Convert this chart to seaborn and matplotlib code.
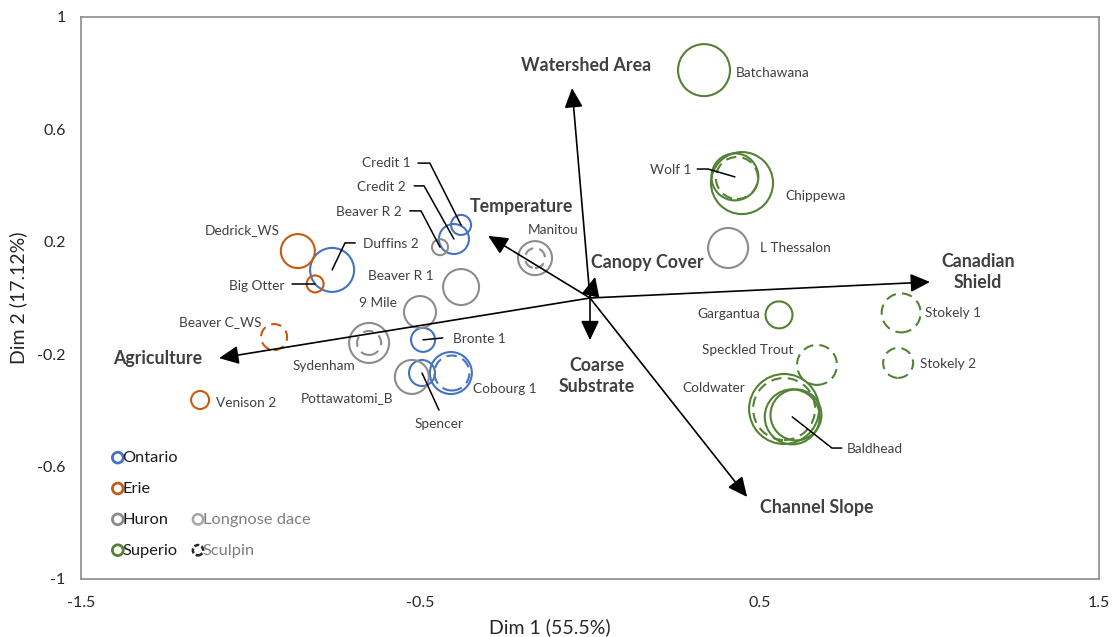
import numpy as np
import pandas as pd
import matplotlib
matplotlib.use("Agg")
import matplotlib.pyplot as plt
import seaborn as sns
from matplotlib.ticker import FixedLocator, FuncFormatter

# ---------------- data ----------------
site = ["Credit 1", "Credit 2", "Duffins 2", "Bronte 1", "Spencer", "Cobourg 1", "Cobourg 1",
        "Dedrick_WS", "Big Otter", "Beaver C_WS", "Venison 2",
        "Beaver R 2", "Manitou", "Manitou", "Beaver R 1", "9 Mile", "Sydenham", "Sydenham",
        "Pottawatomi_B", "L Thessalon",
        "Batchawana", "Chippewa", "Wolf 1", "Wolf 1", "Gargantua", "Stokely 1", "Stokely 2",
        "Speckled Trout", "Coldwater", "Coldwater", "Baldhead", "Baldhead"]
species = ["Longnose dace", "Longnose dace", "Longnose dace", "Longnose dace", "Longnose dace", "Longnose dace", "Sculpin",
           "Longnose dace", "Longnose dace", "Sculpin", "Longnose dace",
           "Longnose dace", "Longnose dace", "Sculpin", "Longnose dace", "Longnose dace", "Longnose dace", "Sculpin",
           "Longnose dace", "Longnose dace",
           "Longnose dace", "Longnose dace", "Longnose dace", "Sculpin", "Longnose dace", "Sculpin", "Sculpin",
           "Sculpin", "Longnose dace", "Sculpin", "Longnose dace", "Longnose dace"]
lake = ["Ontario"] * 7 + ["Erie"] * 4 + ["Huron"] * 9 + ["Superio"] * 12
dim1 = [-0.380, -0.401, -0.760, -0.492, -0.495, -0.410, -0.407,
        -0.861, -0.810, -0.931, -1.149,
        -0.442, -0.162, -0.162, -0.380, -0.501, -0.651, -0.651,
        -0.525, 0.407,
        0.336, 0.448, 0.427, 0.433, 0.557, 0.917, 0.908,
        0.669, 0.572, 0.572, 0.596, 0.607]
dim2 = [0.260, 0.210, 0.100, -0.149, -0.267, -0.267, -0.267,
        0.167, 0.050, -0.139, -0.363,
        0.181, 0.142, 0.142, 0.039, -0.050, -0.160, -0.160,
        -0.281, 0.178,
        0.811, 0.409, 0.431, 0.427, -0.060, -0.053, -0.231,
        -0.238, -0.395, -0.395, -0.423, -0.416]
abundance = [1.00, 2.25, 4.84, 1.44, 1.69, 4.41, 3.06,
             2.89, 0.72, 1.69, 0.81,
             0.64, 2.89, 1.00, 3.24, 2.56, 4.00, 1.44,
             2.89, 4.00,
             6.76, 9.61, 5.52, 4.41, 1.82, 3.80, 2.25,
             4.00, 12.25, 9.61, 7.56, 6.50]

# environmental loadings (arrows)
env_names = ["Watershed Area", "Temperature", "Canopy Cover", "Canadian\nShield",
             "Agriculture", "Coarse\nSubstrate", "Channel Slope"]
env_dim1 = [-0.053, -0.300, 0.015, 1.002, -1.093, 0.000, 0.463]
env_dim2 = [0.747, 0.221, 0.075, 0.057, -0.214, -0.150, -0.708]

lakes = ["Ontario", "Erie", "Huron", "Superio"]
lake_colors = ["#4472C4", "#C55A11", "#8C8C8C", "#548235"]

x_ticks = [-1.5, -0.5, 0.5, 1.5]
y_ticks = [-1, -0.6, -0.2, 0.2, 0.6, 1]

# ---------------- layout (annotation positions) ----------------
# site label: (x, y, ha)
site_labels = {
    "Batchawana": (0.430, 0.801, "left"), "Chippewa": (0.575, 0.363, "left"),
    "Wolf 1": (0.298, 0.456, "right"), "L Thessalon": (0.501, 0.178, "left"),
    "Gargantua": (0.501, -0.057, "right"), "Stokely 1": (0.987, -0.053, "left"),
    "Stokely 2": (0.973, -0.235, "left"), "Speckled Trout": (0.598, -0.185, "right"),
    "Coldwater": (0.457, -0.320, "right"), "Baldhead": (0.757, -0.537, "left"),
    "Credit 1": (-0.530, 0.480, "right"), "Credit 2": (-0.542, 0.395, "right"),
    "Beaver R 2": (-0.554, 0.306, "right"), "Dedrick_WS": (-1.026, 0.242, "center"),
    "Duffins 2": (-0.669, 0.192, "left"), "Big Otter": (-0.902, 0.043, "right"),
    "Beaver R 1": (-0.460, 0.078, "right"), "9 Mile": (-0.569, -0.018, "right"),
    "Beaver C_WS": (-0.967, -0.085, "right"), "Bronte 1": (-0.404, -0.146, "left"),
    "Sydenham": (-0.692, -0.242, "right"), "Pottawatomi_B": (-0.581, -0.356, "right"),
    "Cobourg 1": (-0.345, -0.324, "left"), "Spencer": (-0.445, -0.448, "center"),
    "Venison 2": (-1.102, -0.374, "left"), "Manitou": (-0.109, 0.242, "center"),
}
# leader lines: start point and elbow point (end is the site position)
leaders = {
    "Wolf 1": [(0.316, 0.459), (0.348, 0.459)],
    "Baldhead": [(0.742, -0.534), (0.713, -0.534)],
    "Credit 1": [(-0.507, 0.480), (-0.472, 0.480)],
    "Credit 2": [(-0.518, 0.399), (-0.489, 0.399)],
    "Beaver R 2": [(-0.531, 0.310), (-0.498, 0.310)],
    "Duffins 2": [(-0.692, 0.196), (-0.722, 0.196)],
    "Big Otter": [(-0.878, 0.050), (-0.878, 0.050)],
    "Bronte 1": [(-0.434, -0.142), (-0.434, -0.142)],
    "Spencer": [(-0.445, -0.399), (-0.445, -0.399)],
}
env_labels = [(-0.012, 0.829), (-0.203, 0.324), (0.168, 0.128), (1.143, 0.093),
              (-1.273, -0.217), (0.021, -0.278), (0.669, -0.744)]

# ---------------- plot ----------------
sns.set_theme(style="white")
plt.rcParams["font.family"] = ["Lato", "DejaVu Sans"]

df = pd.DataFrame({"site": site, "species": species, "lake": lake,
                   "dim1": dim1, "dim2": dim2, "abundance": abundance})

fig = plt.figure(figsize=(11.18, 6.37), dpi=100)
ax = fig.add_axes([81 / 1118, 1 - 579 / 637, (1099 - 81) / 1118, (579 - 17) / 637])

palette = dict(zip(lakes, lake_colors))
dash = (0, (5, 3))
for sp, ls in [("Longnose dace", "-"), ("Sculpin", dash)]:
    sub = df[df["species"] == sp]
    sns.scatterplot(data=sub, x="dim1", y="dim2", hue="lake", palette=palette,
                    size="abundance", sizes=(0, 3110.4), size_norm=(0, 15),
                    legend=False, ax=ax, linewidth=1.5, zorder=3)
    coll = ax.collections[-1]
    fc = coll.get_facecolors()
    coll.set_edgecolors(fc)
    coll.set_facecolors("none")
    coll.set_linestyle(ls)

# arrows
for name, ex, ey, (lx, ly) in zip(env_names, env_dim1, env_dim2, env_labels):
    ax.annotate("", xy=(ex, ey), xytext=(0, 0),
                arrowprops=dict(arrowstyle="-|>,head_length=0.85,head_width=0.4",
                                color="black", lw=1.2, shrinkA=0, shrinkB=0,
                                mutation_scale=14), zorder=4)
    ax.text(lx, ly, name, ha="center", va="center", fontsize=12.8,
            fontweight="bold", color="#404040", linespacing=1.25, zorder=5)

# site labels
pos = df.drop_duplicates("site").set_index("site")
for s, (lx, ly, ha) in site_labels.items():
    ax.text(lx, ly, s, ha=ha, va="center", fontsize=9.8, color="#404040", zorder=5)
for s, (p0, p1) in leaders.items():
    cx, cy = pos.loc[s, "dim1"], pos.loc[s, "dim2"]
    ax.plot([p0[0], p1[0], cx], [p0[1], p1[1], cy], color="black", lw=1.1, zorder=4)

# legend
handles = []
for lk, c in zip(lakes, lake_colors):
    handles.append(ax.scatter([], [], s=60, facecolors="none", edgecolors=c, linewidths=2, label=lk))
blank = ax.scatter([], [], s=0, facecolors="none", edgecolors="none", label=" ")
blank2 = ax.scatter([], [], s=0, facecolors="none", edgecolors="none", label=" ")
h_ld = ax.scatter([], [], s=55, facecolors="none", edgecolors="#A6A6A6", linewidths=1.8, label="Longnose dace")
h_sc = ax.scatter([], [], s=55, facecolors="none", edgecolors="#262626", linewidths=1.8,
                  linestyle=(0, (2, 1)), label="Sculpin")
leg = ax.legend(handles=handles + [blank, blank2, h_ld, h_sc], ncol=2, loc="lower left",
                bbox_to_anchor=(0.012, 0.012), frameon=False, fontsize=11.8,
                handletextpad=-0.3, columnspacing=0.6, labelspacing=1.0, handlelength=1.2)
for t in leg.get_texts()[6:]:
    t.set_color("#7F7F7F")
for t in leg.get_texts()[:4]:
    t.set_color("#1a1a1a")

ax.set_xlim(-1.5, 1.5)
ax.set_ylim(-1, 1)
ax.xaxis.set_major_locator(FixedLocator(x_ticks))
ax.yaxis.set_major_locator(FixedLocator(y_ticks))
fmt = FuncFormatter(lambda v, p: f"{v:g}")
ax.xaxis.set_major_formatter(fmt)
ax.yaxis.set_major_formatter(fmt)
ax.tick_params(axis="x", length=0, pad=12, labelsize=11.5, labelcolor="#262626")
ax.tick_params(axis="y", length=0, pad=11, labelsize=11.5, labelcolor="#262626")
for sp in ax.spines.values():
    sp.set_color("#8C8C8C")
    sp.set_linewidth(1.2)
ax.set_xlabel("Dim 1 (55.5%)", fontsize=14, color="#262626")
ax.set_ylabel("Dim 2 (17.12%)", fontsize=14, color="#262626")
ax.xaxis.set_label_coords((550 - 81) / 1018, -(627 - 579) / 562, transform=ax.transAxes)
ax.yaxis.set_label_coords(-(81 - 18) / 1018, 0.5, transform=ax.transAxes)
ax.xaxis.label.set_va("center")
ax.yaxis.label.set_va("center")
ax.grid(False)

fig.savefig("out.png", dpi=100)
